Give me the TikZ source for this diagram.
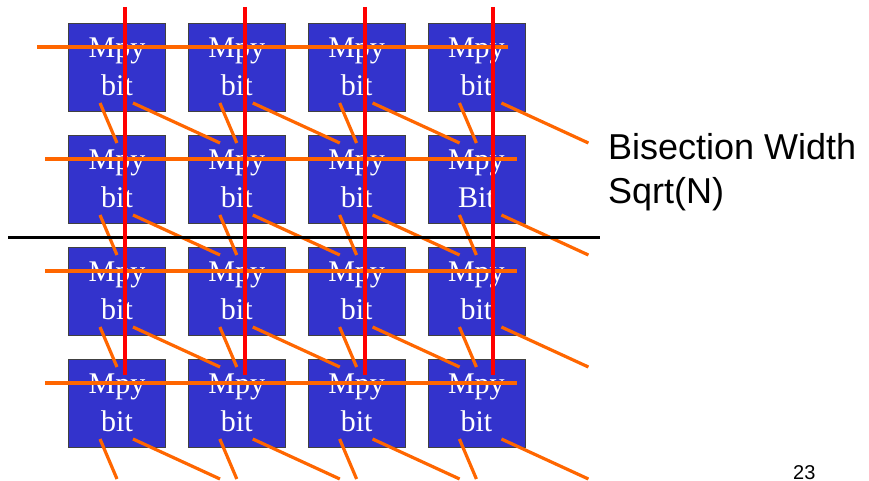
\documentclass[tikz,border=0pt]{standalone}
\usepackage{fontspec}
\setmainfont{Liberation Serif}
\newfontfamily\arialfont{Liberation Sans}
\definecolor{boxblue}{RGB}{51,51,204}
\definecolor{wireorange}{RGB}{255,102,0}
\definecolor{wirered}{RGB}{255,0,0}
\tikzset{
  mbox/.style={draw=black!75, line width=0.8pt, fill=boxblue, minimum width=97pt, minimum height=88pt,
    inner sep=0pt, align=center, text=white, font=\fontsize{30}{38}\selectfont},
  owire/.style={draw=wireorange, line width=3.2pt},
  rwire/.style={draw=wirered, line width=3.2pt},
  cutline/.style={draw=black, line width=3pt},
  caption/.style={font=\arialfont\fontsize{36}{43}\selectfont, inner sep=0pt, anchor=base west},
  pagenum/.style={font=\arialfont\fontsize{20}{24}\selectfont, inner sep=0pt, anchor=base west}
}
\begin{document}
\begin{tikzpicture}[x=1pt,y=-1pt]
\useasboundingbox (0,0) rectangle (869,481);
% boxes
\foreach \r in {0,...,3}{
  \foreach \c in {0,...,3}{
    \pgfmathsetmacro{\L}{68.5+119.8*\c}
    \pgfmathsetmacro{\T}{23+112*\r}
    \node[mbox] (b\r\c) at (\L+48.5,\T+44) {\raisebox{-2pt}{Mpy}\\\raisebox{-2pt}{\ifnum\r\c=13 Bit\else bit\fi}};
  }
}
% diagonal links
\foreach \r in {0,...,3}{
  \foreach \c in {0,...,3}{
    \pgfmathsetmacro{\L}{68.5+119.8*\c}
    \pgfmathsetmacro{\T}{23+112*\r}
    \pgfmathsetmacro{\dx}{\c==3 ? 9 : 0}
    \coordinate (s1\r\c) at (\L+31.5,\T+80);
    \coordinate (s2\r\c) at (\L+48.5,\T+120);
    \coordinate (l1\r\c) at (\L+64.5+\dx,\T+80);
    \coordinate (l2\r\c) at (\L+151.5+\dx,\T+120);
    \draw[owire] (s1\r\c) -- (s2\r\c);
    \draw[owire] (l1\r\c) -- (l2\r\c);
  }
}
% horizontal rows
\coordinate (h0a) at (37,47);  \coordinate (h0b) at (508,47);
\coordinate (h1a) at (45,159); \coordinate (h1b) at (517,159);
\coordinate (h2a) at (45,271); \coordinate (h2b) at (517,271);
\coordinate (h3a) at (45,383); \coordinate (h3b) at (517,383);
\foreach \i in {0,...,3}{\draw[owire] (h\i a) -- (h\i b);}
% bisection cut
\coordinate (cutL) at (8,237); \coordinate (cutR) at (600,237);
\draw[cutline] (cutL) -- (cutR);
% vertical columns
\foreach \i/\x in {0/125,1/245,2/365,3/493}{
  \coordinate (v\i a) at (\x,7); \coordinate (v\i b) at (\x,375);
  \draw[rwire] (v\i a) -- (v\i b);
}
% labels
\node[caption] (cap1) at (608,160) {Bisection Width};
\node[caption] (cap2) at (608,203) {Sqrt(N)};
\node[pagenum] (pg) at (793,479) {23};
\end{tikzpicture}
\end{document}
